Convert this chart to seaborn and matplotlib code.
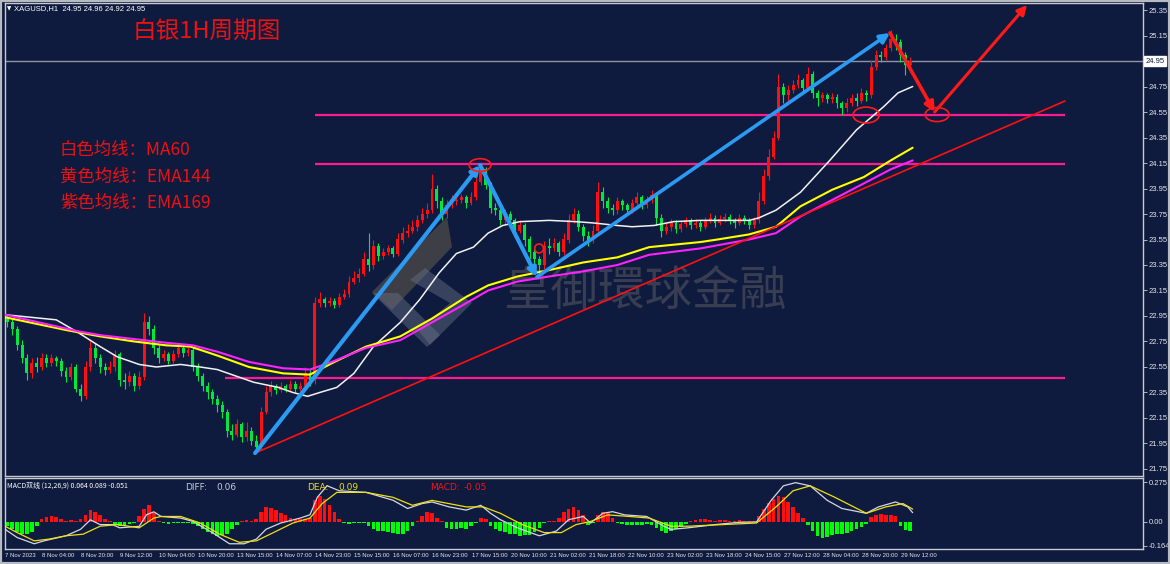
import numpy as np
import pandas as pd
import matplotlib
matplotlib.use("Agg")
import matplotlib.pyplot as plt
import seaborn as sns
from matplotlib.patches import Ellipse, Polygon, Rectangle

sns.set_theme(style="dark")
plt.rcParams['font.family'] = ['Noto Sans CJK SC', 'DejaVu Sans']
plt.rcParams['axes.unicode_minus'] = False

# ---- data (2-hour candles, x in hours since 7 Nov 2023) ----
first_open = 22.93
closes = [22.90, 22.85, 22.72, 22.62, 22.50, 22.58, 22.55, 22.62, 22.58, 22.62,
          22.60, 22.52, 22.47, 22.55, 22.38, 22.32, 22.55, 22.70, 22.62, 22.55,
          22.53, 22.55, 22.65, 22.45, 22.43, 22.48, 22.40, 22.47, 22.90, 22.85,
          22.70, 22.62, 22.65, 22.60, 22.65, 22.70, 22.66, 22.68, 22.55, 22.48,
          22.40, 22.35, 22.30, 22.25, 22.20, 22.05, 22.02, 22.10, 22.00, 22.05,
          21.97, 21.92, 22.20, 22.35, 22.40, 22.37, 22.40, 22.38, 22.42, 22.38,
          22.40, 22.50, 22.45, 23.05, 23.08, 23.05, 23.07, 23.04, 23.10, 23.12,
          23.22, 23.25, 23.28, 23.40, 23.35, 23.50, 23.42, 23.45, 23.48, 23.44,
          23.55, 23.60, 23.62, 23.65, 23.70, 23.75, 23.78, 23.95, 23.85, 23.75,
          23.82, 23.85, 23.86, 23.88, 23.84, 23.88, 24.00, 24.10, 23.98, 23.80,
          23.78, 23.70, 23.75, 23.70, 23.62, 23.66, 23.55, 23.45, 23.40, 23.35,
          23.50, 23.48, 23.52, 23.45, 23.55, 23.70, 23.75, 23.65, 23.58, 23.55,
          23.62, 23.92, 23.85, 23.80, 23.78, 23.85, 23.82, 23.78, 23.84, 23.88,
          23.82, 23.86, 23.90, 23.72, 23.62, 23.65, 23.68, 23.63, 23.67, 23.70,
          23.66, 23.68, 23.65, 23.70, 23.72, 23.68, 23.71, 23.73, 23.70, 23.68,
          23.72, 23.70, 23.66, 23.70, 23.85, 24.05, 24.20, 24.35, 24.75, 24.68,
          24.72, 24.76, 24.80, 24.74, 24.85, 24.70, 24.66, 24.68, 24.65, 24.67,
          24.62, 24.58, 24.62, 24.66, 24.64, 24.70, 24.68, 24.90, 25.00, 24.98,
          25.05, 25.12, 25.10, 25.00, 24.92, 24.95]
highs = [22.96, 22.93, 22.87, 22.76, 22.65, 22.62, 22.63, 22.66, 22.65, 22.65,
         22.64, 22.62, 22.55, 22.58, 22.57, 22.42, 22.60, 22.76, 22.74, 22.65,
         22.58, 22.60, 22.68, 22.67, 22.50, 22.52, 22.50, 22.52, 22.97, 22.95,
         22.88, 22.72, 22.68, 22.67, 22.68, 22.74, 22.73, 22.72, 22.70, 22.58,
         22.50, 22.43, 22.38, 22.33, 22.28, 22.22, 22.10, 22.14, 22.12, 22.12,
         22.08, 22.02, 22.24, 22.40, 22.44, 22.42, 22.43, 22.42, 22.45, 22.44,
         22.43, 22.55, 22.53, 23.10, 23.14, 23.10, 23.10, 23.09, 23.13, 23.16,
         23.26, 23.30, 23.33, 23.45, 23.60, 23.55, 23.52, 23.48, 23.51, 23.50,
         23.60, 23.65, 23.67, 23.70, 23.74, 23.80, 23.84, 24.06, 23.98, 23.88,
         23.86, 23.90, 23.90, 23.91, 23.90, 23.92, 24.05, 24.14, 24.12, 24.00,
         23.84, 23.80, 23.79, 23.77, 23.72, 23.70, 23.68, 23.58, 23.50, 23.42,
         23.54, 23.56, 23.56, 23.54, 23.60, 23.75, 23.80, 23.78, 23.67, 23.62,
         23.66, 24.00, 23.96, 23.88, 23.83, 23.88, 23.87, 23.84, 23.87, 23.92,
         23.90, 23.89, 23.94, 23.92, 23.75, 23.68, 23.71, 23.70, 23.70, 23.73,
         23.72, 23.71, 23.70, 23.73, 23.76, 23.74, 23.74, 23.76, 23.75, 23.72,
         23.75, 23.74, 23.72, 23.73, 23.92, 24.10, 24.26, 24.40, 24.85, 24.78,
         24.76, 24.80, 24.85, 24.82, 24.90, 24.87, 24.72, 24.71, 24.70, 24.70,
         24.69, 24.64, 24.66, 24.69, 24.70, 24.74, 24.72, 24.96, 25.04, 25.03,
         25.08, 25.19, 25.16, 25.12, 25.02, 24.98]
lows = [22.86, 22.80, 22.68, 22.58, 22.45, 22.46, 22.51, 22.53, 22.55, 22.56,
        22.56, 22.48, 22.43, 22.45, 22.35, 22.28, 22.30, 22.52, 22.58, 22.50,
        22.49, 22.50, 22.52, 22.40, 22.38, 22.40, 22.36, 22.38, 22.45, 22.80,
        22.65, 22.58, 22.60, 22.57, 22.58, 22.63, 22.63, 22.64, 22.52, 22.44,
        22.36, 22.30, 22.26, 22.20, 22.15, 22.00, 21.98, 22.00, 21.96, 21.97,
        21.94, 21.88, 21.90, 22.18, 22.32, 22.34, 22.35, 22.35, 22.36, 22.35,
        22.36, 22.38, 22.40, 22.42, 23.02, 23.02, 23.03, 23.01, 23.02, 23.08,
        23.10, 23.20, 23.22, 23.26, 23.30, 23.32, 23.38, 23.40, 23.43, 23.41,
        23.42, 23.52, 23.57, 23.60, 23.62, 23.68, 23.72, 23.76, 23.80, 23.70,
        23.72, 23.80, 23.82, 23.84, 23.80, 23.82, 23.86, 23.98, 23.95, 23.76,
        23.74, 23.66, 23.67, 23.66, 23.58, 23.60, 23.50, 23.40, 23.34, 23.26,
        23.32, 23.44, 23.46, 23.42, 23.43, 23.52, 23.68, 23.62, 23.54, 23.50,
        23.52, 23.60, 23.80, 23.76, 23.74, 23.75, 23.78, 23.74, 23.76, 23.82,
        23.79, 23.80, 23.84, 23.66, 23.57, 23.59, 23.62, 23.60, 23.61, 23.65,
        23.63, 23.64, 23.62, 23.63, 23.68, 23.65, 23.66, 23.69, 23.67, 23.64,
        23.66, 23.67, 23.63, 23.64, 23.68, 23.83, 24.02, 24.18, 24.33, 24.62,
        24.64, 24.70, 24.74, 24.70, 24.72, 24.66, 24.60, 24.63, 24.62, 24.62,
        24.58, 24.53, 24.55, 24.60, 24.60, 24.62, 24.64, 24.66, 24.88, 24.94,
        24.96, 25.03, 25.04, 24.94, 24.84, 24.86]

# moving averages (hour, price)
ma60_h = [0, 21, 30, 39, 46, 55, 62, 72, 80, 87, 93, 102, 112, 118, 124, 129, 136,
          143, 151, 162, 170, 178, 185, 192, 198, 204, 211, 223, 234, 241, 251, 257,
          266, 274, 285, 305, 309, 316, 326, 338, 349, 360, 366, 372]
ma60_p = [22.96, 22.92, 22.82, 22.71, 22.63, 22.57, 22.55, 22.57, 22.55, 22.53, 22.49,
          22.43, 22.39, 22.35, 22.32, 22.35, 22.39, 22.50, 22.71, 22.90, 23.08, 23.29,
          23.44, 23.49, 23.60, 23.66, 23.69, 23.70, 23.69, 23.68, 23.66, 23.65, 23.66,
          23.69, 23.70, 23.70, 23.72, 23.78, 23.92, 24.17, 24.41, 24.59, 24.70, 24.75]
ema144_h = [0, 25, 39, 53, 66, 76, 87, 100, 114, 125, 134, 148, 162, 175, 189, 198,
            210, 223, 237, 251, 264, 285, 292, 305, 316, 326, 339, 352, 363, 372]
ema144_p = [22.94, 22.84, 22.79, 22.75, 22.72, 22.71, 22.64, 22.55, 22.50, 22.49, 22.58,
            22.71, 22.79, 22.93, 23.10, 23.19, 23.26, 23.31, 23.37, 23.41, 23.49, 23.53,
            23.55, 23.59, 23.65, 23.81, 23.94, 24.04, 24.17, 24.27]
ema169_h = [0, 30, 39, 66, 77, 87, 100, 114, 125, 134, 148, 162, 175, 189, 198, 210,
            223, 237, 251, 264, 285, 305, 316, 326, 339, 352, 363, 372]
ema169_p = [22.96, 22.83, 22.80, 22.74, 22.72, 22.67, 22.59, 22.54, 22.53, 22.59, 22.70,
            22.76, 22.90, 23.05, 23.15, 23.22, 23.26, 23.30, 23.35, 23.43, 23.48, 23.55,
            23.60, 23.73, 23.86, 23.99, 24.10, 24.17]

# MACD (12,26,9)
macd_hist = [-0.03, -0.05, -0.07, -0.084, -0.08, -0.07, -0.03, 0.02, 0.035, 0.042,
             0.035, 0.02, 0.01, 0.015, 0.005, 0.02, 0.05, 0.082, 0.07, 0.045,
             0.02, 0.01, -0.02, -0.029, -0.025, -0.015, -0.005, 0.04, 0.09, 0.115,
             0.06, 0.005, -0.01, -0.012, -0.01, -0.008, -0.005, -0.01, -0.015, -0.03,
             -0.05, -0.07, -0.085, -0.095, -0.09, -0.08, -0.05, -0.02, 0.008, 0.012,
             0.01, 0.02, 0.07, 0.104, 0.095, 0.08, 0.06, 0.045, 0.03, 0.02,
             0.02, 0.02, 0.03, 0.15, 0.18, 0.16, 0.12, 0.07, 0.02, -0.01,
             -0.012, -0.01, -0.008, -0.01, -0.03, -0.045, -0.06, -0.065, -0.07, -0.075,
             -0.084, -0.08, -0.06, -0.03, 0.01, 0.04, 0.071, 0.06, 0.03, 0.005,
             -0.04, -0.05, -0.045, -0.04, -0.045, -0.03, -0.01, 0.027, 0.02, -0.03,
             -0.05, -0.06, -0.07, -0.08, -0.085, -0.095, -0.09, -0.09, -0.07, -0.04,
             -0.01, 0.008, 0.01, 0.03, 0.07, 0.09, 0.104, 0.085, 0.05, -0.02,
             -0.01, 0.05, 0.071, 0.06, 0.03, -0.01, -0.015, -0.02, -0.02, -0.018,
             -0.02, -0.015, -0.02, -0.04, -0.065, -0.073, -0.065, -0.05, -0.035, -0.015,
             0.008, 0.015, 0.02, 0.018, 0.012, 0.008, 0.012, 0.015, 0.01, 0.008,
             0.012, 0.01, 0.008, 0.01, 0.04, 0.09, 0.13, 0.16, 0.18, 0.17,
             0.14, 0.1, 0.06, 0.03, -0.02, -0.06, -0.095, -0.107, -0.1, -0.09,
             -0.08, -0.08, -0.075, -0.065, -0.05, -0.035, -0.015, 0.035, 0.05, 0.053,
             0.05, 0.048, 0.04, -0.03, -0.055, -0.06]
diff_h = [0, 5, 12, 16, 25, 31, 35, 39, 44, 47, 55, 58, 61, 64, 72, 77, 85, 92, 98,
          103, 107, 113, 121, 125, 128, 132, 137, 148, 159, 165, 171, 175, 182, 189,
          195, 199, 203, 210, 219, 226, 231, 237, 240, 245, 249, 254, 263, 270, 273,
          280, 291, 301, 308, 314, 319, 324, 330, 337, 343, 353, 358, 365, 370, 372]
diff_v = [-0.05, -0.107, -0.15, -0.13, -0.095, -0.05, 0.015, -0.018, -0.018, -0.04,
          -0.03, 0.05, 0.07, 0.038, 0.027, 0.004, -0.073, -0.15, -0.15, -0.118, -0.05,
          -0.007, 0.027, 0.05, 0.17, 0.25, 0.215, 0.204, 0.15, 0.093, 0.127, 0.138,
          0.104, 0.082, 0.115, 0.06, 0.016, -0.04, -0.095, -0.062, 0.016, 0.038, -0.007,
          0.06, 0.071, 0.049, 0.038, -0.029, -0.051, -0.04, -0.018, -0.002, 0.0, 0.149,
          0.249, 0.271, 0.249, 0.149, 0.093, 0.06, 0.104, 0.138, 0.104, 0.064]
dea_h = [0, 5, 12, 18, 25, 32, 39, 46, 55, 61, 64, 72, 80, 88, 96, 103, 110, 118,
         125, 130, 136, 148, 159, 167, 175, 189, 196, 203, 212, 221, 228, 234, 240,
         247, 256, 264, 273, 280, 294, 308, 316, 323, 330, 340, 353, 361, 368, 372]
dea_v = [-0.029, -0.073, -0.13, -0.118, -0.095, -0.084, -0.029, -0.018, -0.04, 0.027,
         0.038, 0.038, -0.007, -0.084, -0.14, -0.13, -0.073, -0.007, 0.027, 0.127,
         0.204, 0.204, 0.17, 0.115, 0.149, 0.104, 0.104, 0.06, -0.018, -0.073, -0.073,
         -0.018, 0.004, 0.049, 0.038, 0.027, -0.029, -0.029, -0.018, -0.007, 0.104,
         0.215, 0.249, 0.171, 0.06, 0.104, 0.127, 0.089]

# drawn objects (hour, price)
pt_a = (102.5, 21.875)
pt_b = (194.7, 24.134)
pt_c = (218.0, 23.256)
pt_d = (362.7, 25.17)
pt_e = (381.0, 24.55)
pt_f = (418.9, 25.39)
trend_end = (434.4, 24.636)
level_prices = [24.53, 24.14, 22.46]
level_starts = [127, 127, 90]
level_end = 434.4
last_price = 24.95

tick_labels = ["7 Nov 2023", "8 Nov 04:00", "8 Nov 20:00", "9 Nov 12:00", "10 Nov 04:00",
               "10 Nov 20:00", "13 Nov 15:00", "14 Nov 07:00", "14 Nov 23:00",
               "15 Nov 15:00", "16 Nov 07:00", "16 Nov 23:00", "17 Nov 15:00",
               "20 Nov 10:00", "21 Nov 02:00", "21 Nov 18:00", "22 Nov 10:00",
               "23 Nov 02:00", "23 Nov 18:00", "24 Nov 15:00", "27 Nov 12:00",
               "28 Nov 04:00", "28 Nov 20:00", "29 Nov 12:00"]

# ---- build frame ----
df = pd.DataFrame({"close": closes, "high": highs, "low": lows})
df["open"] = [first_open] + closes[:-1]
df["x"] = np.arange(len(df)) * 2 + 1
df["up"] = df["close"] >= df["open"]

BG = "#0f1b3e"
FR = "#c8cad2"
SMALL = "Liberation Sans"
fig = plt.figure(figsize=(11.7, 5.64), dpi=100, facecolor=BG)
W, H = 1170, 564
ax = fig.add_axes([5 / W, 1 - 476 / H, 1138 / W, 473 / H])
mx = fig.add_axes([5 / W, 1 - 549 / H, 1138 / W, 71 / H], sharex=ax)
for a in (ax, mx):
    a.set_facecolor(BG)
    a.grid(False)
    for s in a.spines.values():
        s.set_color(FR)
        s.set_linewidth(1)

ax.set_xlim(0, 466.4)
ax.set_ylim(21.695, 25.405)
mx.set_ylim(-0.186, 0.303)

# candles
up_c, dn_c = "#ff1010", "#00e840"
colors = np.where(df["up"], up_c, dn_c)
ax.vlines(df["x"], df["low"], df["high"], colors=colors, linewidth=0.8, zorder=3)
body_lo = df[["open", "close"]].min(axis=1)
body_h = (df["close"] - df["open"]).abs().clip(lower=0.008)
ax.bar(df["x"], body_h, bottom=body_lo, width=1.2, color=colors, linewidth=0, zorder=3)

# moving averages
sns.lineplot(x=ma60_h, y=ma60_p, ax=ax, color="#f2f2f2", linewidth=1.1, sort=False, estimator=None, zorder=4)
sns.lineplot(x=ema144_h, y=ema144_p, ax=ax, color="#ffff00", linewidth=1.5, sort=False, estimator=None, zorder=4)
sns.lineplot(x=ema169_h, y=ema169_p, ax=ax, color="#ff22ff", linewidth=1.5, sort=False, estimator=None, zorder=4)

# levels and trend line
ax.axhline(last_price, color="#8f93a6", linewidth=1, zorder=2)
ax.hlines(level_prices, level_starts, level_end, colors="#ff1a90", linewidth=1.6, zorder=2)
ax.plot([pt_a[0], trend_end[0]], [pt_a[1], trend_end[1]], color="#ff1010", linewidth=1.2, zorder=5)

def arrow(p0, p1, color, lw, ms):
    ax.annotate("", xy=p1, xytext=p0, zorder=6,
                arrowprops=dict(arrowstyle="-|>", color=color, lw=lw, mutation_scale=ms,
                                shrinkA=0, shrinkB=0))

blue = "#2a9af2"
arrow(pt_a, pt_b, blue, 3, 12)
arrow(pt_b, pt_c, blue, 3, 12)
arrow(pt_c, pt_d, blue, 2.6, 14)
arrow(pt_d, pt_e, "#ff1a1a", 2.6, 14)
arrow(pt_e, pt_f, "#ff1a1a", 2.2, 14)

for (cx, cy, ew, eh) in [(194.7, 24.134, 9.0, 0.10), (352.9, 24.526, 10.7, 0.125),
                         (382.0, 24.53, 9.8, 0.11), (218.9, 23.48, 3.6, 0.07)]:
    ax.add_patch(Ellipse((cx, cy), ew, eh, fill=False, edgecolor="#ff1a1a", linewidth=1.2, zorder=6))

# watermark
def px(x, y):
    return ((x - 5) / 1138, 1 - (y - 3) / 473)

ax.text(*px(645, 293), "皇御環球金融", transform=ax.transAxes, ha="center", va="center",
        fontsize=34, color="#5a5a62", alpha=0.55, zorder=1)
for pts, col, al in [([(372, 292), (447, 217), (452, 247), (392, 310)], "#4e4a4a", 0.75),
                     ([(372, 293), (398, 293), (440, 335), (427, 347)], "#6a7288", 0.45),
                     ([(425, 268), (472, 303), (430, 345), (418, 330), (450, 303), (410, 280)], "#6a7288", 0.45)]:
    ax.add_patch(Polygon([px(*p) for p in pts], closed=True, transform=ax.transAxes,
                         facecolor=col, edgecolor="none", alpha=al, zorder=1))

# texts
ax.text(*px(207, 32), "白银1H周期图", transform=ax.transAxes, ha="center", va="center",
        fontsize=17, color="#ee1111")
for yy, t in [(150, "白色均线：MA60"), (177, "黄色均线：EMA144"), (203, "紫色均线：EMA169")]:
    ax.text(*px(60, yy), t, transform=ax.transAxes, ha="left", va="center",
            fontsize=12.5, color="#ee1111")
ax.text(*px(7, 9), "▼", transform=ax.transAxes, ha="left", va="center", fontsize=4,
        color="white", family="DejaVu Sans")
ax.text(*px(14, 9), "XAGUSD,H1  24.95 24.96 24.92 24.95", transform=ax.transAxes,
        ha="left", va="center", fontsize=5.5, color="white", family=SMALL)

# price axis
ax.yaxis.tick_right()
yt = np.round(np.arange(21.75, 25.36, 0.2), 2)
ax.set_yticks(yt)
ax.set_yticklabels(["" if abs(v - last_price) < 1e-6 else f"{v:.2f}" for v in yt],
                   family=SMALL)
ax.tick_params(axis="y", colors=FR, labelcolor="#e6e6ea", labelsize=5.5, length=3, width=0.6, pad=1)
ax.tick_params(axis="x", bottom=False, labelbottom=False)
ax.text(1.002, last_price, f"{last_price:.2f}", transform=ax.get_yaxis_transform(),
        ha="left", va="center", fontsize=5.5, color=BG, zorder=10, clip_on=False, family=SMALL,
        bbox=dict(boxstyle="square,pad=0.15", facecolor="white", edgecolor="white"))

# MACD panel
hist_colors = np.where(np.array(macd_hist) >= 0, "#ff1010", "#00ff00")
mx.bar(df["x"], macd_hist, width=1.5, color=hist_colors, linewidth=0, zorder=2)
sns.lineplot(x=diff_h, y=diff_v, ax=mx, color="#d4d6e4", linewidth=0.9, sort=False, estimator=None, zorder=3)
sns.lineplot(x=dea_h, y=dea_v, ax=mx, color="#f0e010", linewidth=0.9, sort=False, estimator=None, zorder=3)
mx.yaxis.tick_right()
mx.set_yticks([0.275, 0.0, -0.164])
mx.set_yticklabels(["0.275", "0.00", "-0.164"], family=SMALL)
mx.tick_params(axis="y", colors=FR, labelcolor="#e6e6ea", labelsize=5.5, length=3, width=0.6, pad=1)
mx.set_ylabel("")
ax.set_ylabel("")
mx.text(0.0015, 0.9, "MACD双线 (12,26,9) 0.064 0.089 -0.051", transform=mx.transAxes,
        ha="left", va="center", fontsize=5, color="white", zorder=6)
for xx, t, c in [(185, "DIFF:", "#c8cad8"), (216, "0.06", "#c8cad8"),
                 (307, "DEA:", "#f0e010"), (338, "0.09", "#f0e010"),
                 (430, "MACD:", "#ff1010"), (464, "-0.05", "#ff1010")]:
    mx.text((xx - 5) / 1138, 0.86, t, transform=mx.transAxes, ha="left", va="center",
            fontsize=6.5, color=c, family="DejaVu Sans", zorder=6)

tick_pos = [max(0.0, 16 * k - 0.8) for k in range(len(tick_labels))]
mx.set_xticks(tick_pos)
mx.set_xticklabels(tick_labels, family=SMALL)
for lab in mx.get_xticklabels():
    lab.set_ha("left")
mx.tick_params(axis="x", colors=FR, labelcolor="#e6e6ea", labelsize=4.3, length=2, width=0.6, pad=1)

fig.patches.append(Rectangle((0, 0), 1, 1, transform=fig.transFigure, fill=False,
                             edgecolor="#b8bac2", linewidth=3))
fig.savefig("out.png", dpi=100, facecolor=BG)
